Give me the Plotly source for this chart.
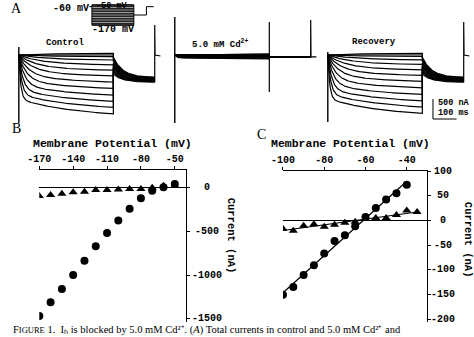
import numpy as np
import plotly.graph_objects as go

W, H = 474, 337
MONO = "Liberation Mono"
SERIF = "Liberation Serif"

# ---------------- Panel A : current families ----------------
a_step_mv = [-50, -60, -70, -80, -90, -100, -110, -120, -130, -140, -150, -160, -170]
a_control_end = [42, 0, -40, -125, -245, -380, -520, -675, -835, -1000, -1160, -1310, -1470]
a_recovery_end = [40, 0, -38, -120, -235, -370, -510, -660, -820, -985, -1145, -1300, -1460]
a_cadmium_end = [22, 22, 0, -15, -15, -22, -26, -26, -46, -53, -69, -84, -95]
a_tau_ms = [150, 150, 130, 110, 90, 70, 55, 42, 32, 24, 17, 12, 8]
a_tail_start = [-60, -95, -130, -165, -200, -235, -270, -305, -340, -375, -410, -445, -480]
a_tail_end = [-560, -570, -580, -590, -600, -610, -620, -630, -640, -650, -660, -670, -680]
a_cd_tail = [-45] * 13

# capacitive transients (nA): onset top/bottom, end spike top, level after spike
control_onset = [200, -1700]
control_spike = [750, 0, -25]
cadmium_onset = [950, -1700]
cadmium_stepend = [825, -925]
cadmium_spike = [875, -45, -45]
recovery_onset = [75, -1675]
recovery_spike = [825, 0, -25]

STEP_MS, TAIL_END_MS, SWEEP_END_MS = 400, 575, 600
FAST_FRACTION, SLOW_TAU = 0.75, 250

# voltage protocol (inset)
holding_mv = -60
tail_mv = -110
protocol_tail_ms = 520
protocol_end_ms = 590

# scale bar
scale_na = 500
scale_ms = 100

# ---------------- Panel B ----------------
b_voltage = [-170, -160, -150, -140, -130, -120, -110, -100, -90, -80, -70, -60, -50]
b_control = [-1468, -1311, -1160, -1000, -835, -671, -518, -377, -240, -122, -34, 5, 42]
b_cadmium = [-95, -84, -69, -53, -46, -26, -26, -22, -15, -15, 0, 22, 22]
b_xticks = [-170, -140, -110, -80, -50]
b_yticks = [0, -500, -1000, -1500]

# ---------------- Panel C ----------------
c_v_control = [-100, -95, -90, -85, -80, -75, -70, -65, -60, -55, -50, -45, -40]
c_control = [-151, -135, -111, -91, -67, -42, -30, -12, 7, 25, 42, 55, 72]
c_v_cadmium = [-100, -95, -90, -85, -80, -75, -70, -65, -60, -55, -50, -45, -40, -35]
c_cadmium = [-17, -21, -11, -8, -13, -9, -5, -3, 3, 5, 5, 11, 20, 17]
c_xticks = [-100, -80, -60, -40]
c_yticks = [100, 50, 0, -50, -100, -150, -200]

# ---------------------------------------------------------------
def px2x(px):
    return px / W

def px2y(py):
    return 1 - py / H

fig = go.Figure()

t_step = np.linspace(0, STEP_MS, 161)
t_tail = np.linspace(STEP_MS, TAIL_END_MS, 71)


def family(ends, taus, tail0, tail1):
    xs, ys = [], []
    for i_end, tau, t0, t1 in zip(ends, taus, tail0, tail1):
        fast = (1 - np.exp(-t_step / tau)) / (1 - np.exp(-STEP_MS / tau))
        slow = (1 - np.exp(-t_step / SLOW_TAU)) / (1 - np.exp(-STEP_MS / SLOW_TAU))
        i_step = i_end * (FAST_FRACTION * fast + (1 - FAST_FRACTION) * slow)
        i_tail = t1 + (t0 - t1) * np.exp(-(t_tail - STEP_MS) / 40.0)
        xs += list(t_step) + list(t_tail) + [None]
        ys += list(i_step) + list(i_tail) + [None]
    return xs, ys


LW = 1.2
panels = [
    ("x3", a_control_end, a_tail_start, a_tail_end, control_onset, control_spike, None),
    ("x4", a_cadmium_end, a_cd_tail, a_cd_tail, cadmium_onset, cadmium_spike, cadmium_stepend),
    ("x5", a_recovery_end, a_tail_start, a_tail_end, recovery_onset, recovery_spike, None),
]
for xa, ends, t0, t1, onset, spike, stepend in panels:
    xs, ys = family(ends, a_tau_ms, t0, t1)
    fig.add_trace(go.Scatter(x=xs, y=ys, xaxis=xa, yaxis="y3", mode="lines",
                             line=dict(color="black", width=LW), hoverinfo="skip"))
    fig.add_trace(go.Scatter(x=[0, 0], y=onset, xaxis=xa, yaxis="y3", mode="lines",
                             line=dict(color="black", width=1.4), hoverinfo="skip"))
    if stepend is not None:
        fig.add_trace(go.Scatter(x=[STEP_MS, STEP_MS], y=stepend, xaxis=xa, yaxis="y3",
                                 mode="lines", line=dict(color="black", width=1.2),
                                 hoverinfo="skip"))
    fig.add_trace(go.Scatter(x=[TAIL_END_MS, TAIL_END_MS, TAIL_END_MS + 1.5, SWEEP_END_MS],
                             y=[t1[-1], spike[0], spike[1], spike[2]],
                             xaxis=xa, yaxis="y3", mode="lines",
                             line=dict(color="black", width=1.2), hoverinfo="skip"))

# scale bar (recovery axis)
sb_x0 = 445
sb_y0 = -1600
fig.add_trace(go.Scatter(x=[sb_x0, sb_x0, sb_x0 + scale_ms], y=[sb_y0 + scale_na, sb_y0, sb_y0],
                         xaxis="x5", yaxis="y3", mode="lines",
                         line=dict(color="black", width=1), hoverinfo="skip"))

# voltage protocol inset
px_, py_ = [], []
for v in a_step_mv:
    px_ += [0, STEP_MS, None]
    py_ += [v, v, None]
fig.add_trace(go.Scatter(x=px_, y=py_, xaxis="x6", yaxis="y6", mode="lines",
                         line=dict(color="#222222", width=1.3), hoverinfo="skip"))
vmax, vmin = max(a_step_mv), min(a_step_mv)
fig.add_trace(go.Scatter(x=[0, STEP_MS, STEP_MS, 0, 0], y=[vmax, vmax, vmin, vmin, vmax],
                         xaxis="x6", yaxis="y6", mode="lines",
                         line=dict(color="black", width=1), hoverinfo="skip"))
fig.add_trace(go.Scatter(x=[-25, 0], y=[holding_mv, holding_mv], xaxis="x6", yaxis="y6",
                         mode="lines", line=dict(color="black", width=1), hoverinfo="skip"))
fig.add_trace(go.Scatter(x=[STEP_MS, protocol_tail_ms, protocol_tail_ms, protocol_end_ms],
                         y=[tail_mv, tail_mv, holding_mv, holding_mv], xaxis="x6", yaxis="y6",
                         mode="lines", line=dict(color="black", width=1), hoverinfo="skip"))

# ---------------- Panel B traces ----------------
fig.add_trace(go.Scatter(x=b_voltage, y=b_cadmium, xaxis="x", yaxis="y", mode="markers",
                         marker=dict(symbol="triangle-up", size=8, color="black"),
                         hoverinfo="skip"))
fig.add_trace(go.Scatter(x=b_voltage, y=b_control, xaxis="x", yaxis="y", mode="markers",
                         marker=dict(symbol="circle", size=8, color="black"), hoverinfo="skip"))

# ---------------- Panel C traces ----------------
kc = np.polyfit(c_v_control, c_control, 1)
kd = np.polyfit(c_v_cadmium, c_cadmium, 1)
fxc = [min(c_v_control), max(c_v_control)]
fxd = [min(c_v_cadmium), max(c_v_cadmium)]
fig.add_trace(go.Scatter(x=fxc, y=list(np.polyval(kc, fxc)), xaxis="x2", yaxis="y2",
                         mode="lines", line=dict(color="black", width=1.2), hoverinfo="skip"))
fig.add_trace(go.Scatter(x=fxd, y=list(np.polyval(kd, fxd)), xaxis="x2", yaxis="y2",
                         mode="lines", line=dict(color="black", width=1.2), hoverinfo="skip"))
fig.add_trace(go.Scatter(x=c_v_cadmium, y=c_cadmium, xaxis="x2", yaxis="y2", mode="markers",
                         marker=dict(symbol="triangle-up", size=8, color="black"),
                         hoverinfo="skip"))
fig.add_trace(go.Scatter(x=c_v_control, y=c_control, xaxis="x2", yaxis="y2", mode="markers",
                         marker=dict(symbol="circle", size=8, color="black"), hoverinfo="skip"))

# ---------------- axes ----------------
tickfont = dict(family=MONO, size=10, color="black", weight="bold")
common = dict(showline=True, linecolor="black", linewidth=1, ticks="outside", ticklen=3,
              tickcolor="black", tickwidth=1, showgrid=False, tickfont=tickfont,
              fixedrange=True)
hidden = dict(visible=False, fixedrange=True)

A_MS_PX = 0.2425
A_NA_PX = 1 / 25.0
A_ZERO_PX = 55


def a_xdomain(onset_px, rng):
    return [px2x(onset_px + rng[0] * A_MS_PX), px2x(onset_px + rng[1] * A_MS_PX)]


a_rng = [-25, SWEEP_END_MS]
fig.update_layout(
    width=W, height=H, margin=dict(l=0, r=0, t=0, b=0),
    paper_bgcolor="white", plot_bgcolor="rgba(0,0,0,0)", showlegend=False,
    xaxis=dict(domain=[px2x(28), px2x(178.6)], range=[-170, -40], anchor="y", side="top",
               zeroline=False, tickvals=b_xticks, ticktext=[str(v) for v in b_xticks], **common),
    yaxis=dict(domain=[px2y(322), px2y(170)], range=[-1537, 202], anchor="x", side="right",
               zeroline=True, zerolinecolor="black", zerolinewidth=1,
               tickvals=b_yticks, showticklabels=False, **common),
    xaxis2=dict(domain=[px2x(278), px2x(426.2)], range=[-100, -30], anchor="y2", side="top",
                zeroline=False, tickvals=c_xticks, ticktext=[str(v) for v in c_xticks], **common),
    yaxis2=dict(domain=[px2y(322), px2y(171)], range=[-206, 100], anchor="x2", side="right",
                zeroline=True, zerolinecolor="black", zerolinewidth=1,
                tickvals=c_yticks, showticklabels=False, **common),
    xaxis3=dict(domain=a_xdomain(7, a_rng), range=a_rng, anchor="y3", **hidden),
    xaxis4=dict(domain=a_xdomain(167, a_rng), range=a_rng, anchor="y3", **hidden),
    xaxis5=dict(domain=a_xdomain(324, a_rng), range=a_rng, anchor="y3", **hidden),
    yaxis3=dict(domain=[px2y(130), 1], range=[(A_ZERO_PX - 130) / A_NA_PX, A_ZERO_PX / A_NA_PX],
                anchor="x3", **hidden),
    xaxis6=dict(domain=[px2x(82 - 30 * 0.1075), px2x(82 + 600 * 0.1075)], range=[-30, 600],
                anchor="y6", **hidden),
    yaxis6=dict(domain=[px2y(35), 1], range=[-230, -20], anchor="x6", **hidden),
)


def ann(text, xpx, ypx, size, family=MONO, bold=True, angle=0, xanchor="center",
        yanchor="middle"):
    fig.add_annotation(text=text, x=px2x(xpx), y=px2y(ypx), xref="paper", yref="paper",
                       showarrow=False, textangle=angle, xanchor=xanchor, yanchor=yanchor,
                       borderpad=0,
                       font=dict(family=family, size=size, color="black",
                                 weight="bold" if bold else "normal"))


# right-hand y tick labels, centred as in the original, placed on the data scale
for yref, vals, xpx in (("y", b_yticks, 200), ("y2", c_yticks, 442)):
    for v in vals:
        fig.add_annotation(text=str(v), x=px2x(xpx), y=v, xref="paper", yref=yref,
                           showarrow=False, xanchor="center", yanchor="middle", borderpad=0,
                           font=dict(family=MONO, size=10, color="black", weight="bold"))

# panel A labels
ann("A", 5, 8, 14, family=SERIF, bold=False)
ann("-60 mV", 61, 8.5, 10)
ann("-50 mV", 103, 0, 8.5, yanchor="top")
ann("-170 mV", 104, 29.5, 10)
ann("Control", 54, 43, 9)
ann("5.0 mM Cd<sup>2+</sup>", 213, 44, 9)
ann("Recovery", 371, 42, 9)
ann("500 nA", 436, 103, 8.5, xanchor="left")
ann("100 ms", 436, 112.5, 8.5, xanchor="left")

# panel B / C labels
ann("B", 5, 128, 14, family=SERIF, bold=False)
ann("C", 256, 134, 14, family=SERIF, bold=False)
ann("Membrane Potential (mV)", 103, 143, 11.5)
ann("Membrane Potential (mV)", 347, 143, 11.5)
ann("Current (nA)", 225, 236, 10.5, angle=90)
ann("Current (nA)", 468, 240, 10.5, angle=90)

# caption at the bottom edge
ann("F<span style='font-size:8.5px'>IGURE</span> 1.  Iₕ is blocked by 5.0 mM Cd²⁺. "
    "(<i>A</i>) Total currents in control and 5.0 mM Cd²⁺ and",
    0, 336.5, 10.5, family=SERIF, bold=False, xanchor="left", yanchor="bottom")

fig.write_html("out.html")
